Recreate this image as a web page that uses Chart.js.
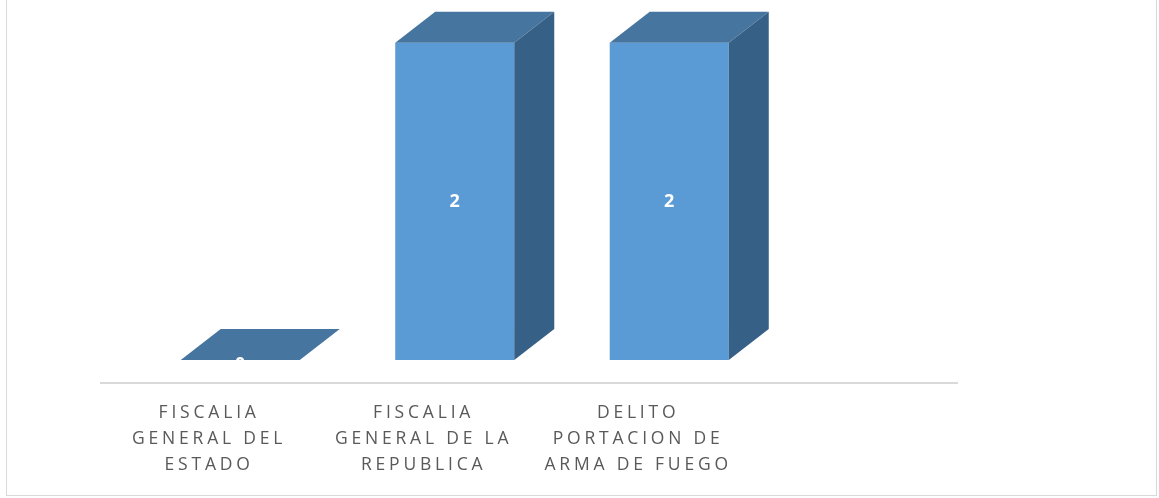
<!DOCTYPE html>
<html>
<head>
<meta charset="utf-8">
<title>Fiscalia chart</title>
<script src="https://cdn.jsdelivr.net/npm/chart.js"></script>
<style>
    body { margin: 0; background: #fff; }
    .wrap { position: relative; width: 1159px; height: 498px; overflow: hidden; }
    .frame {
        position: absolute; left: 6px; top: -3px;
        width: 1149px; height: 497px;
        border: 1.5px solid #d9d9d9;
    }
    canvas { position: absolute; left: 0; top: 0; }
</style>
</head>
<body>
<div class="wrap">
    <div class="frame"></div>
    <canvas id="chart" width="1159" height="498"></canvas>
</div>
<script>
    // categories (the 4th slot is empty in the original)
    const categories = [
        ['FISCALIA', 'GENERAL DEL', 'ESTADO'],
        ['FISCALIA', 'GENERAL DE LA', 'REPUBLICA'],
        ['DELITO', 'PORTACION DE', 'ARMA DE FUEGO'],
        ''
    ];
    const values = [0, 2, 2, null];
    const yMax = 2.2;

    // 3d look
    const FRONT = '#5b9bd5';
    const TOP = '#46769f';
    const SIDE = '#376087';
    const DEPTH_X = 40;
    const DEPTH_Y = 31;
    const FLOOR_SHIFT = 33;   // floor / labels sit left of the bar fronts
    const FLOOR_DROP = 23;

    const cube = {
        id: 'cube',
        beforeDatasetsDraw(chart) {
            const ctx = chart.ctx;
            const area = chart.chartArea;
            const y0 = chart.scales.y.getPixelForValue(0) + FLOOR_DROP;
            ctx.save();
            ctx.strokeStyle = '#d9d9d9';
            ctx.lineWidth = 2;
            ctx.beginPath();
            ctx.moveTo(area.left - FLOOR_SHIFT, y0);
            ctx.lineTo(area.right - FLOOR_SHIFT, y0);
            ctx.stroke();
            ctx.restore();
        },
        afterDatasetsDraw(chart) {
            const ctx = chart.ctx;
            const meta = chart.getDatasetMeta(0);
            ctx.save();
            meta.data.forEach((bar, i) => {
                if (values[i] == null) return;
                const p = bar.getProps(['x', 'y', 'base', 'width'], true);
                const l = p.x - p.width / 2, r = p.x + p.width / 2;
                const t = p.y, b = p.base;

                // top face
                ctx.fillStyle = TOP;
                ctx.beginPath();
                ctx.moveTo(l, t);
                ctx.lineTo(r, t);
                ctx.lineTo(r + DEPTH_X, t - DEPTH_Y);
                ctx.lineTo(l + DEPTH_X, t - DEPTH_Y);
                ctx.closePath();
                ctx.fill();

                // side face
                if (b - t > 0.5) {
                    ctx.fillStyle = SIDE;
                    ctx.beginPath();
                    ctx.moveTo(r, t);
                    ctx.lineTo(r + DEPTH_X, t - DEPTH_Y);
                    ctx.lineTo(r + DEPTH_X, b - DEPTH_Y);
                    ctx.lineTo(r, b);
                    ctx.closePath();
                    ctx.fill();
                }

                // value label
                ctx.fillStyle = '#ffffff';
                ctx.font = 'bold 18px "Open Sans", sans-serif';
                ctx.textAlign = 'center';
                ctx.textBaseline = 'middle';
                ctx.fillText(String(values[i]), p.x, (t + b) / 2 + (b - t < 1 ? 5 : 1));
            });
            ctx.restore();
        },
        afterDraw(chart) {
            const ctx = chart.ctx;
            const xs = chart.scales.x;
            const y0 = chart.scales.y.getPixelForValue(0) + FLOOR_DROP;
            ctx.save();
            ctx.fillStyle = '#595959';
            ctx.font = '17.5px "Open Sans", sans-serif';
            ctx.letterSpacing = '3.8px';
            ctx.textAlign = 'center';
            ctx.textBaseline = 'alphabetic';
            categories.forEach((lines, i) => {
                if (!lines) return;
                const cx = xs.getPixelForValue(i) - FLOOR_SHIFT + 1.9;
                lines.forEach((line, k) => {
                    ctx.fillText(line, cx, y0 + 34.5 + k * 26.2);
                });
            });
            ctx.restore();
        }
    };

    new Chart(document.getElementById('chart'), {
        type: 'bar',
        data: {
            labels: categories,
            datasets: [{
                data: values,
                backgroundColor: FRONT,
                borderWidth: 0,
                categoryPercentage: 1,
                barPercentage: 0.555
            }]
        },
        options: {
            responsive: false,
            animation: false,
            layout: { padding: { left: 133, right: 168, top: 11, bottom: 138 } },
            plugins: {
                legend: { display: false },
                tooltip: { enabled: false }
            },
            scales: {
                x: { display: false },
                y: { display: false, min: 0, max: yMax }
            }
        },
        plugins: [cube]
    });
</script>
</body>
</html>
